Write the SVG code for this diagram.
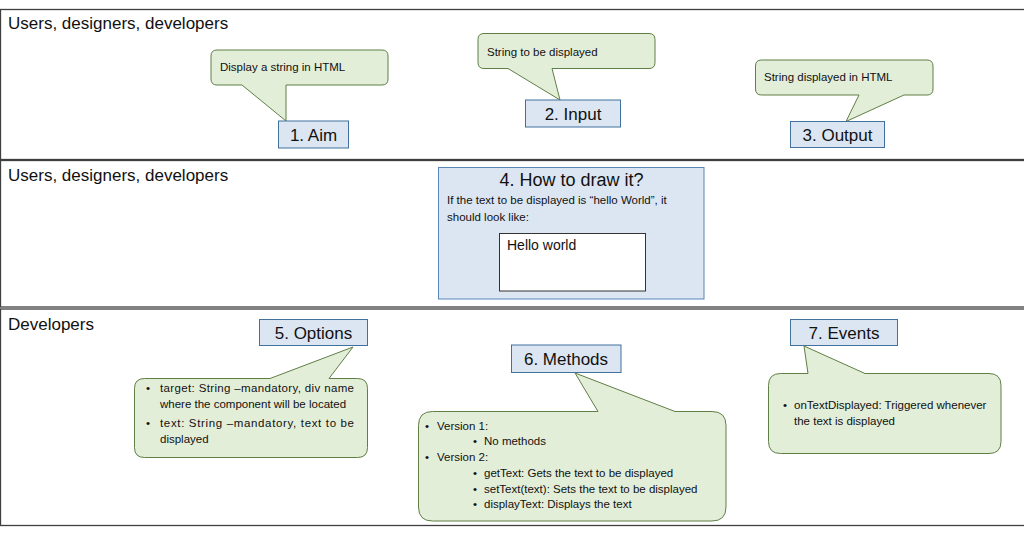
<svg xmlns="http://www.w3.org/2000/svg" width="1024" height="535" viewBox="0 0 1024 535">
<style>
  text { font-family: "Liberation Sans", Arial, sans-serif; fill: #111; }
  .band { fill: #ffffff; stroke: #3f3f3f; stroke-width: 1.3; }
  .lane { font-size: 17px; }
  .label-box { fill: #dce6f2; stroke: #41719c; stroke-width: 1; }
  .label { font-size: 17px; text-anchor: middle; }
  .callout { fill: #e3eed9; stroke: #5f7f45; stroke-width: 1; }
  .ct { font-size: 11.5px; }
</style>
<rect width="1024" height="535" fill="#ffffff"/>

<g id="lanes">
  <rect class="band" x="0.5" y="9.5" width="1030" height="150"/>
  <rect class="band" x="0.5" y="160.5" width="1030" height="146.5"/>
  <rect class="band" x="0.5" y="309" width="1030" height="216.5"/>
  <text class="lane" x="8" y="29">Users, designers, developers</text>
  <text class="lane" x="8" y="181">Users, designers, developers</text>
  <text class="lane" x="8" y="330">Developers</text>
</g>

<g id="connectors"></g>

<g id="callout-aim">
  <path class="callout" d="M217,50 H382 Q388,50 388,56 V79 Q388,85 382,85 H286 L286,121 L242,85 H217 Q211,85 211,79 V56 Q211,50 217,50 Z"/>
  <text class="ct" x="220" y="71">Display a string in HTML</text>
</g>
<g id="node-aim">
  <rect class="label-box" x="278.5" y="121" width="70" height="27"/>
  <text class="label" x="313.5" y="140.5">1. Aim</text>
</g>

<g id="callout-input">
  <path class="callout" d="M484,33.5 H649 Q655,33.5 655,39.5 V62.5 Q655,68.5 649,68.5 H552 L560,100 L508,68.5 H484 Q478,68.5 478,62.5 V39.5 Q478,33.5 484,33.5 Z"/>
  <text class="ct" x="487" y="55.5">String to be displayed</text>
</g>
<g id="node-input">
  <rect class="label-box" x="525.5" y="100" width="95" height="27"/>
  <text class="label" x="573" y="119.5">2. Input</text>
</g>

<g id="callout-output">
  <path class="callout" d="M761.5,60 H927 Q933,60 933,66 V89 Q933,95 927,95 H904 L846,121.5 L859,95 H761.5 Q755.5,95 755.5,89 V66 Q755.5,60 761.5,60 Z"/>
  <text class="ct" x="764" y="81">String displayed in HTML</text>
</g>
<g id="node-output">
  <rect class="label-box" x="790.5" y="121.5" width="94" height="26"/>
  <text class="label" x="837.5" y="140.5">3. Output</text>
</g>

<g id="node-draw">
  <rect x="438.5" y="167.5" width="265.5" height="131.5" fill="#dce6f2" stroke="#5b86b8" stroke-width="1"/>
  <text x="571.5" y="185.5" font-size="18" text-anchor="middle">4. How to draw it?</text>
  <text class="ct" x="447" y="204">If the text to be displayed is “hello World”, it</text>
  <text class="ct" x="447" y="220.5">should look like:</text>
  <rect x="499.5" y="233.5" width="146" height="57.5" fill="#ffffff" stroke="#333" stroke-width="1"/>
  <text x="507" y="249.5" font-size="14">Hello world</text>
</g>

<g id="node-options">
  <rect class="label-box" x="259.5" y="319.5" width="108" height="26"/>
  <text class="label" x="313.5" y="338.5">5. Options</text>
</g>
<g id="callout-options">
  <path class="callout" d="M144.5,378.5 H270 L353,347 L329,378.5 H357.5 Q367.5,378.5 367.5,388.5 V447.5 Q367.5,457.5 357.5,457.5 H144.5 Q134.5,457.5 134.5,447.5 V388.5 Q134.5,378.5 144.5,378.5 Z"/>
  <text class="ct" x="146" y="392">•</text>
  <text class="ct" x="160" y="392" textLength="194" lengthAdjust="spacing">target: String –mandatory, div name</text>
  <text class="ct" x="160" y="408">where the component will be located</text>
  <text class="ct" x="146" y="427">•</text>
  <text class="ct" x="160" y="427" textLength="194" lengthAdjust="spacing">text: String –mandatory, text to be</text>
  <text class="ct" x="160" y="443">displayed</text>
</g>

<g id="node-methods">
  <rect class="label-box" x="511.5" y="345" width="109.5" height="27.5"/>
  <text class="label" x="566" y="365">6. Methods</text>
</g>
<g id="callout-methods">
  <path class="callout" d="M432.5,411.5 H598 L575,373 L675,411.5 H712 Q726,411.5 726,425.5 V507 Q726,521 712,521 H432.5 Q418.5,521 418.5,507 V425.5 Q418.5,411.5 432.5,411.5 Z"/>
  <text class="ct" x="425" y="430">•</text>
  <text class="ct" x="437" y="430">Version 1:</text>
  <text class="ct" x="473" y="445">•</text>
  <text class="ct" x="484" y="445">No methods</text>
  <text class="ct" x="425" y="461">•</text>
  <text class="ct" x="437" y="461">Version 2:</text>
  <text class="ct" x="473" y="477">•</text>
  <text class="ct" x="484" y="477">getText: Gets the text to be displayed</text>
  <text class="ct" x="473" y="492.5">•</text>
  <text class="ct" x="484" y="492.5">setText(text): Sets the text to be displayed</text>
  <text class="ct" x="473" y="508">•</text>
  <text class="ct" x="484" y="508">displayText: Displays the text</text>
</g>

<g id="node-events">
  <rect class="label-box" x="790.5" y="319.5" width="107" height="26"/>
  <text class="label" x="844" y="338.5">7. Events</text>
</g>
<g id="callout-events">
  <path class="callout" d="M780.5,373.5 H808 L804,346 L865,373.5 H989 Q1001,373.5 1001,385.5 V441.5 Q1001,453.5 989,453.5 H780.5 Q768.5,453.5 768.5,441.5 V385.5 Q768.5,373.5 780.5,373.5 Z"/>
  <text class="ct" x="783" y="409">•</text>
  <text class="ct" x="794" y="409">onTextDisplayed: Triggered whenever</text>
  <text class="ct" x="794" y="425">the text is displayed</text>
</g>
</svg>
